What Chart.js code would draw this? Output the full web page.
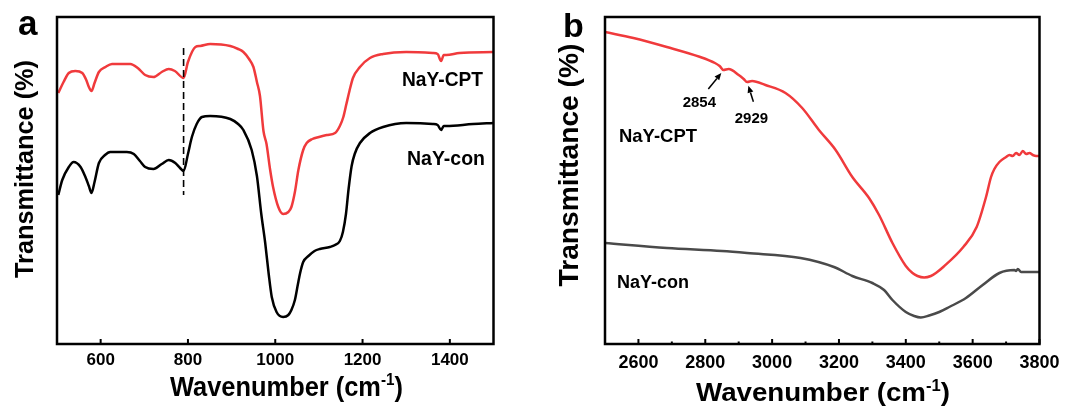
<!DOCTYPE html>
<html lang="en">
<head>
<meta charset="UTF-8" />
<title>FTIR spectra - NaY-con / NaY-CPT</title>
<script src="https://cdn.jsdelivr.net/npm/chart.js"></script>
<style>
  body { margin: 0; background: #fff; }
  .wrap { position: relative; width: 1066px; height: 408px; }
  canvas { position: absolute; top: 0; }
  #chartA { left: 0; }
  #chartB { left: 540px; }
</style>
</head>
<body>
<div class="wrap">
  <canvas id="chartA" width="540" height="408"></canvas>
  <canvas id="chartB" width="526" height="408"></canvas>
</div>
<script>
const FONT = '"Liberation Sans", Arial, Helvetica, sans-serif';
const RED = '#f03a3c';
const GRAY = '#4a4a4a';

// ---- panel a: 500-1500 cm-1 (transmittance, arbitrary units) ----
const nayCptA = [[503,251],[515,262],[527,271],[542,273],[558,271],[567,264],[573,257],[579,253],[586,261],[596,272],
  [611,277],[626,280],[668,280],[685,276],[702,269],[721,267],[740,272],[756,275],[770,273],[790,266],[800,282],
  [817,297],[828,298],[851,300],[897,298],[915,295],[927,292],[940,285],[950,277],[958,262],[965,248],[973,213],
  [980,200],[988,175],[995,157],[1007,137],[1018,130],[1030,132],[1037,137],[1045,152],[1053,174],[1064,194],
  [1072,201],[1085,205],[1100,207],[1118,209],[1137,211],[1148,218],[1156,227],[1163,240],[1170,253],[1178,266],
  [1194,277],[1217,286],[1247,290],[1300,292],[1361,291],[1372,290],[1380,283],[1386,289],[1392,289],[1422,291],[1500,292]];
const nayConA = [[503,149],[512,164],[527,177],[538,182],[554,177],[566,166],[573,158],[579,151],[586,162],[596,181],
  [610,189],[622,192],[660,192],[676,190],[690,183],[702,177],[721,175],[740,180],[756,184],[771,181],[782,176],
  [790,173],[800,190],[809,207],[820,220],[832,227],[851,228],[897,225],[915,220],[927,214],[946,194],[958,168],
  [968,130],[977,101],[985,70],[992,47],[1003,32],[1018,27],[1030,29],[1037,34],[1045,44],[1052,60],[1057,71],
  [1064,82],[1076,88],[1090,93],[1102,95],[1125,97],[1137,99],[1148,103],[1155,112],[1162,130],[1168,155],[1175,178],
  [1182,190],[1194,201],[1217,211],[1247,217],[1300,221],[1361,220],[1372,219],[1380,214],[1386,218],[1392,218],
  [1453,220],[1500,221]];
const ticksA = [600, 800, 1000, 1200, 1400];
const markerA = 790;            // dashed guide line
const markerSpanA = [149, 296]; // its vertical extent

// ---- panel b: 2500-3800 cm-1 ----
const nayCptB = [[2500,312],[2585,306],[2685,297],[2785,287],[2829,281],[2843,278],[2854,274],[2870,275],[2900,269],
  [2915,265],[2925,262],[2940,263],[2980,259],[3040,251],[3090,236],[3140,214],[3190,194],[3240,167],[3290,146],
  [3320,129],[3360,101],[3400,78],[3420,71],[3435,68],[3455,66.5],[3475,68],[3490,71],[3512,77],[3572,97],[3612,117],
  [3640,147],[3655,167],[3665,175],[3680,182],[3700,187],[3710,189],[3720,188],[3730,191],[3740,189],[3750,193],
  [3760,190],[3770,191],[3780,189],[3790,188],[3800,188]];
const nayConB = [[2500,101],[2685,96],[2850,93],[2925,91],[3085,86],[3185,77],[3240,68],[3300,61],[3335,54],
  [3360,44],[3400,32],[3425,28],[3445,26.5],[3470,28.5],[3500,32],[3530,37],[3580,46],[3630,59],[3680,71],[3725,74],
  [3730,73],[3735,75],[3745,72],[3800,72]];
const ticksB = [2600, 2800, 3000, 3200, 3400, 3600, 3800];
const minorTicksB = [2700, 2900, 3100, 3300, 3500, 3700];
const bandsB = [2854, 2929];

const toXY = arr => arr.map(([x, y]) => ({ x, y }));

function valueAt(series, wn) {
  for (let i = 1; i < series.length; i++) {
    const [x0, y0] = series[i - 1], [x1, y1] = series[i];
    if (wn <= x1) return y0 + (y1 - y0) * (wn - x0) / (x1 - x0);
  }
  return series[series.length - 1][1];
}

// text squeezed/stretched to a given width
function drawText(ctx, str, x, y, size, width, align) {
  ctx.save();
  ctx.font = `bold ${size}px ${FONT}`;
  ctx.fillStyle = '#000';
  ctx.textBaseline = 'alphabetic';
  const w = ctx.measureText(str).width;
  const k = width ? width / w : 1;
  const left = align === 'center' ? x - w * k / 2 : x;
  ctx.translate(left, y);
  ctx.scale(k, 1);
  ctx.textAlign = 'left';
  ctx.fillText(str, 0, 0);
  ctx.restore();
}

function drawXTitle(ctx, cx, base, size, width) {
  const parts = [['Wavenumber (cm', size, 0], ['-1', size * 0.6, -size * 0.4], [')', size, 0]];
  ctx.save();
  ctx.fillStyle = '#000';
  ctx.textAlign = 'left';
  ctx.textBaseline = 'alphabetic';
  const ws = parts.map(([t, s]) => { ctx.font = `bold ${s}px ${FONT}`; return ctx.measureText(t).width; });
  const total = ws.reduce((a, b) => a + b, 0);
  ctx.translate(cx - width / 2, base);
  ctx.scale(width / total, 1);
  let xx = 0;
  parts.forEach(([t, s, dy], i) => {
    ctx.font = `bold ${s}px ${FONT}`;
    ctx.fillText(t, xx, dy);
    xx += ws[i];
  });
  ctx.restore();
}

function drawYTitle(ctx, base, cy, size, width) {
  ctx.save();
  ctx.translate(base, cy);
  ctx.rotate(-Math.PI / 2);
  drawText(ctx, 'Transmittance (%)', 0, 0, size, width, 'center');
  ctx.restore();
}

function drawFrame(chart, major, minor) {
  const { ctx, chartArea: a, scales: { x } } = chart;
  ctx.save();
  ctx.strokeStyle = '#000';
  ctx.lineWidth = 2;
  const tick = (v, len) => {
    const px = x.getPixelForValue(v);
    ctx.beginPath();
    ctx.moveTo(px, a.bottom);
    ctx.lineTo(px, a.bottom - len);
    ctx.stroke();
  };
  major.forEach(v => tick(v, 5));
  minor.forEach(v => tick(v, 2.5));
  ctx.lineWidth = 2.5;
  ctx.strokeRect(a.left, a.top, a.right - a.left, a.bottom - a.top);
  ctx.restore();
}

function arrow(ctx, x0, y0, x1, y1) {
  const ang = Math.atan2(y1 - y0, x1 - x0);
  const hl = 7, hw = 3;
  ctx.save();
  ctx.strokeStyle = '#000';
  ctx.fillStyle = '#000';
  ctx.lineWidth = 1.5;
  ctx.beginPath();
  ctx.moveTo(x0, y0);
  ctx.lineTo(x1 - hl * Math.cos(ang), y1 - hl * Math.sin(ang));
  ctx.stroke();
  ctx.beginPath();
  ctx.moveTo(x1, y1);
  ctx.lineTo(x1 - hl * Math.cos(ang) + hw * Math.sin(ang), y1 - hl * Math.sin(ang) - hw * Math.cos(ang));
  ctx.lineTo(x1 - hl * Math.cos(ang) - hw * Math.sin(ang), y1 - hl * Math.sin(ang) + hw * Math.cos(ang));
  ctx.closePath();
  ctx.fill();
  ctx.restore();
}

const decorA = {
  id: 'decorA',
  afterDraw(chart) {
    const { ctx, scales: { x, y } } = chart;
    drawFrame(chart, ticksA, []);
    // dashed guide at 790 cm-1
    const px = x.getPixelForValue(markerA);
    ctx.save();
    ctx.strokeStyle = '#000';
    ctx.lineWidth = 1.6;
    ctx.setLineDash([7, 4]);
    ctx.beginPath();
    ctx.moveTo(px, y.getPixelForValue(markerSpanA[1]));
    ctx.lineTo(px, y.getPixelForValue(markerSpanA[0]));
    ctx.stroke();
    ctx.restore();
    drawText(ctx, 'a', 18, 35, 35);
    drawText(ctx, 'NaY-CPT', 402, 86, 20, 81);
    drawText(ctx, 'NaY-con', 407, 165, 20, 78);
    drawXTitle(ctx, 286.5, 396, 27, 233);
    drawYTitle(ctx, 33, 169, 25, 218);
  }
};

const decorB = {
  id: 'decorB',
  afterDraw(chart) {
    const { ctx, scales: { x, y } } = chart;
    drawFrame(chart, ticksB, minorTicksB);
    drawText(ctx, 'b', 23, 37, 34);
    drawText(ctx, 'NaY-CPT', 79, 142, 19, 78);
    drawText(ctx, 'NaY-con', 77, 288, 18, 72);
    // band markers on the NaY-CPT trace
    const t1x = x.getPixelForValue(bandsB[0]) - 2, t1y = y.getPixelForValue(valueAt(nayCptB, bandsB[0])) + 3;
    arrow(ctx, t1x - 13, t1y + 16, t1x, t1y);
    drawText(ctx, String(bandsB[0]), t1x - 22, t1y + 34, 15, null, 'center');
    const t2x = x.getPixelForValue(bandsB[1]), t2y = y.getPixelForValue(valueAt(nayCptB, bandsB[1])) + 4;
    arrow(ctx, t2x + 5, t2y + 16, t2x, t2y);
    drawText(ctx, String(bandsB[1]), t2x + 3, t2y + 37, 15, null, 'center');
    drawXTitle(ctx, 283, 401, 26, 254);
    drawYTitle(ctx, 38, 165, 28, 243);
  }
};

function makeChart(id, cfg) {
  return new Chart(document.getElementById(id), {
    type: 'line',
    data: {
      datasets: cfg.series.map(s => ({
        data: toXY(s.data),
        borderColor: s.color,
        borderWidth: 2.5,
        borderJoinStyle: 'round',
        pointRadius: 0,
        cubicInterpolationMode: 'monotone',
        fill: false
      }))
    },
    options: {
      responsive: false,
      animation: false,
      events: [],
      layout: { padding: { top: 17, right: cfg.padRight, left: 0, bottom: 0 } },
      plugins: { legend: { display: false }, tooltip: { enabled: false } },
      scales: {
        x: {
          type: 'linear',
          min: cfg.min,
          max: cfg.max,
          grid: { display: false },
          border: { display: false },
          afterBuildTicks: s => { s.ticks = cfg.ticks.map(v => ({ value: v })); },
          afterFit: s => { s.height = 64; },
          ticks: {
            color: '#000',
            font: { family: FONT, size: cfg.tickSize, weight: 'bold' },
            padding: cfg.tickPad,
            maxRotation: 0,
            autoSkip: false,
            callback: v => String(v)
          }
        },
        y: {
          min: 0,
          max: 327,
          grid: { display: false },
          border: { display: false },
          ticks: { display: false },
          afterFit: s => { s.width = cfg.left; }
        }
      }
    },
    plugins: [cfg.decor]
  });
}

makeChart('chartA', {
  series: [{ data: nayCptA, color: RED }, { data: nayConA, color: '#000' }],
  min: 500, max: 1500, ticks: ticksA, tickSize: 17, tickPad: -2,
  left: 57, padRight: 46.5, decor: decorA
});

makeChart('chartB', {
  series: [{ data: nayCptB, color: RED }, { data: nayConB, color: GRAY }],
  min: 2500, max: 3800, ticks: ticksB, tickSize: 18, tickPad: 0,
  left: 65, padRight: 26.5, decor: decorB
});
</script>
</body>
</html>
